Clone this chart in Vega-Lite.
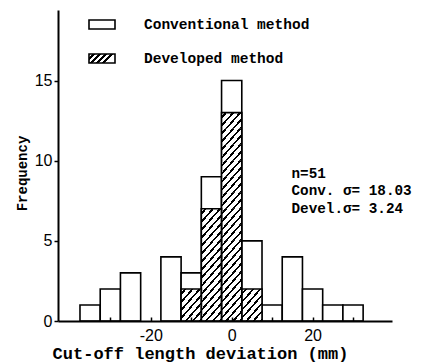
{
  "$schema": "https://vega.github.io/schema/vega-lite/v6.json",
  "width": 334,
  "height": 311,
  "autosize": "none",
  "padding": {"left": 58, "top": 10, "right": 34, "bottom": 41},
  "background": "white",
  "config": {
    "view": {"stroke": null},
    "axis": {
      "grid": false,
      "domainColor": "black",
      "tickColor": "black",
      "labelColor": "black",
      "titleColor": "black",
      "domainWidth": 2,
      "tickWidth": 1.5,
      "labelFont": "Liberation Sans",
      "labelFontSize": 16,
      "titleFont": "Liberation Mono",
      "titleFontWeight": "bold"
    }
  },
  "data": {
    "values": [
      {"method": "Conventional", "dev": -35},
      {"method": "Conventional", "dev": -30}, {"method": "Conventional", "dev": -30},
      {"method": "Conventional", "dev": -25}, {"method": "Conventional", "dev": -25}, {"method": "Conventional", "dev": -25},
      {"method": "Conventional", "dev": -15}, {"method": "Conventional", "dev": -15}, {"method": "Conventional", "dev": -15}, {"method": "Conventional", "dev": -15},
      {"method": "Conventional", "dev": -10}, {"method": "Conventional", "dev": -10}, {"method": "Conventional", "dev": -10},
      {"method": "Conventional", "dev": -5}, {"method": "Conventional", "dev": -5}, {"method": "Conventional", "dev": -5}, {"method": "Conventional", "dev": -5}, {"method": "Conventional", "dev": -5}, {"method": "Conventional", "dev": -5}, {"method": "Conventional", "dev": -5}, {"method": "Conventional", "dev": -5}, {"method": "Conventional", "dev": -5},
      {"method": "Conventional", "dev": 0}, {"method": "Conventional", "dev": 0}, {"method": "Conventional", "dev": 0}, {"method": "Conventional", "dev": 0}, {"method": "Conventional", "dev": 0}, {"method": "Conventional", "dev": 0}, {"method": "Conventional", "dev": 0}, {"method": "Conventional", "dev": 0}, {"method": "Conventional", "dev": 0}, {"method": "Conventional", "dev": 0}, {"method": "Conventional", "dev": 0}, {"method": "Conventional", "dev": 0}, {"method": "Conventional", "dev": 0}, {"method": "Conventional", "dev": 0}, {"method": "Conventional", "dev": 0},
      {"method": "Conventional", "dev": 5}, {"method": "Conventional", "dev": 5}, {"method": "Conventional", "dev": 5}, {"method": "Conventional", "dev": 5}, {"method": "Conventional", "dev": 5},
      {"method": "Conventional", "dev": 10},
      {"method": "Conventional", "dev": 15}, {"method": "Conventional", "dev": 15}, {"method": "Conventional", "dev": 15}, {"method": "Conventional", "dev": 15},
      {"method": "Conventional", "dev": 20}, {"method": "Conventional", "dev": 20},
      {"method": "Conventional", "dev": 25},
      {"method": "Conventional", "dev": 30},
      {"method": "Developed", "dev": -10, "id": 1}, {"method": "Developed", "dev": -10, "id": 2},
      {"method": "Developed", "dev": -5, "id": 3}, {"method": "Developed", "dev": -5, "id": 4}, {"method": "Developed", "dev": -5, "id": 5}, {"method": "Developed", "dev": -5, "id": 6}, {"method": "Developed", "dev": -5, "id": 7}, {"method": "Developed", "dev": -5, "id": 8}, {"method": "Developed", "dev": -5, "id": 9},
      {"method": "Developed", "dev": 0, "id": 10}, {"method": "Developed", "dev": 0, "id": 11}, {"method": "Developed", "dev": 0, "id": 12}, {"method": "Developed", "dev": 0, "id": 13}, {"method": "Developed", "dev": 0, "id": 14}, {"method": "Developed", "dev": 0, "id": 15}, {"method": "Developed", "dev": 0, "id": 16}, {"method": "Developed", "dev": 0, "id": 17}, {"method": "Developed", "dev": 0, "id": 18}, {"method": "Developed", "dev": 0, "id": 19}, {"method": "Developed", "dev": 0, "id": 20}, {"method": "Developed", "dev": 0, "id": 21}, {"method": "Developed", "dev": 0, "id": 22},
      {"method": "Developed", "dev": 5, "id": 23}, {"method": "Developed", "dev": 5, "id": 24}
    ]
  },
  "layer": [
    {
      "transform": [
        {"bin": {"anchor": -2.5, "step": 5, "extent": [-37.5, 32.5]}, "field": "dev", "as": ["b0", "b1"]},
        {"filter": "datum.method === 'Conventional'"}
      ],
      "mark": {"type": "bar", "stroke": "black", "strokeWidth": 1.6, "opacity": 1},
      "encoding": {
        "x": {
          "field": "b0", "type": "quantitative",
          "scale": {"domain": [-41.7, 38.4], "nice": false, "zero": false},
          "axis": {
            "values": [-30, -20, -10, 0, 10, 20, 30],
            "labelExpr": "datum.value % 20 === 0 ? '' + datum.value : ''",
            "tickSize": -4,
            "labelPadding": 10,
            "labelFlush": false,
            "zindex": 1,
            "title": "Cut-off length deviation (mm)",
            "titleFontSize": 17,
            "titleX": 142,
            "titleY": 32,
            "titleBaseline": "middle"
          }
        },
        "x2": {"field": "b1"},
        "y": {
          "aggregate": "count", "type": "quantitative",
          "scale": {"domain": [0, 19.4], "nice": false},
          "axis": {
            "values": [0, 5, 10, 15],
            "tickSize": 4,
            "labelPadding": 2,
            "labelFlush": false,
            "title": "Frequency",
            "titleFontSize": 14,
            "titleX": -36,
            "titleY": 163,
            "titleBaseline": "middle"
          }
        },
        "fill": {
          "field": "method", "type": "nominal",
          "scale": {
            "domain": ["Conventional", "Developed"],
            "range": [
              "white",
              {"expr": "{gradient: 'linear', x1: 0, y1: 0, x2: 1, y2: 0.35, stops: [{offset: 0, color: 'white'}, {offset: 0.12, color: 'white'}, {offset: 0.12, color: 'black'}, {offset: 0.21, color: 'black'}, {offset: 0.21, color: 'white'}, {offset: 0.33, color: 'white'}, {offset: 0.33, color: 'black'}, {offset: 0.42, color: 'black'}, {offset: 0.42, color: 'white'}, {offset: 0.54, color: 'white'}, {offset: 0.54, color: 'black'}, {offset: 0.63, color: 'black'}, {offset: 0.63, color: 'white'}, {offset: 0.75, color: 'white'}, {offset: 0.75, color: 'black'}, {offset: 0.84, color: 'black'}, {offset: 0.84, color: 'white'}, {offset: 1, color: 'white'}]}"}
            ]
          },
          "legend": {
            "orient": "none",
            "legendX": 30,
            "legendY": 0.5,
            "title": null,
            "direction": "vertical",
            "symbolType": "M-1,-0.346H1V0.346H-1Z",
            "symbolSize": 676,
            "symbolStrokeColor": "black",
            "symbolStrokeWidth": 1.6,
            "symbolOpacity": 1,
            "labelFont": "Liberation Mono",
            "labelFontWeight": "bold",
            "labelFontSize": 14.5,
            "labelColor": "black",
            "labelOffset": 28,
            "labelLimit": 0,
            "rowPadding": 12,
            "labelExpr": "datum.label + ' method'",
            "encode": {
              "symbols": {
                "update": {
                  "stroke": {"value": "black"},
                  "strokeWidth": {"value": 1.6},
                  "opacity": {"value": 1},
                  "fillOpacity": {"value": 1},
                  "strokeOpacity": {"value": 1}
                }
              }
            }
          }
        }
      }
    },
    {
      "transform": [
        {"bin": {"anchor": -2.5, "step": 5, "extent": [-37.5, 32.5]}, "field": "dev", "as": ["b0", "b1"]},
        {"filter": "datum.method === 'Developed'"}
      ],
      "mark": {
        "type": "bar",
        "strokeWidth": 0,
        "opacity": 1,
        "fill": {
          "gradient": "linear", "x1": 0, "y1": 0, "x2": 1.1414, "y2": 0.7977,
          "stops": [
            {"offset": 0, "color": "white"},
            {"offset": 0.1, "color": "white"}, {"offset": 0.1, "color": "black"}, {"offset": 0.165, "color": "black"}, {"offset": 0.165, "color": "white"},
            {"offset": 0.3057, "color": "white"}, {"offset": 0.3057, "color": "black"}, {"offset": 0.3707, "color": "black"}, {"offset": 0.3707, "color": "white"},
            {"offset": 0.5114, "color": "white"}, {"offset": 0.5114, "color": "black"}, {"offset": 0.5764, "color": "black"}, {"offset": 0.5764, "color": "white"},
            {"offset": 0.7171, "color": "white"}, {"offset": 0.7171, "color": "black"}, {"offset": 0.7821, "color": "black"}, {"offset": 0.7821, "color": "white"},
            {"offset": 0.9228, "color": "white"}, {"offset": 0.9228, "color": "black"}, {"offset": 0.9878, "color": "black"}, {"offset": 0.9878, "color": "white"},
            {"offset": 1, "color": "white"}
          ]
        }
      },
      "encoding": {
        "x": {"field": "b0", "type": "quantitative"},
        "x2": {"field": "b1"},
        "y": {"aggregate": "count", "type": "quantitative", "stack": "zero"},
        "detail": {"field": "id"}
      }
    },
    {
      "transform": [
        {"bin": {"anchor": -2.5, "step": 5, "extent": [-37.5, 32.5]}, "field": "dev", "as": ["b0", "b1"]},
        {"filter": "datum.method === 'Developed'"}
      ],
      "mark": {"type": "bar", "fillOpacity": 0, "stroke": "black", "strokeWidth": 1.6},
      "encoding": {
        "x": {"field": "b0", "type": "quantitative"},
        "x2": {"field": "b1"},
        "y": {"aggregate": "count", "type": "quantitative"}
      }
    },
    {
      "data": {"values": [{}]},
      "mark": {
        "type": "text",
        "text": ["n=51", "Conv. σ= 18.03", "Devel.σ= 3.24"],
        "align": "left",
        "baseline": "middle",
        "lineHeight": 17.5,
        "font": "Liberation Mono",
        "fontWeight": "bold",
        "fontSize": 14.3,
        "color": "black"
      },
      "encoding": {
        "x": {"datum": 14.8},
        "y": {"datum": 9.17}
      }
    }
  ]
}
